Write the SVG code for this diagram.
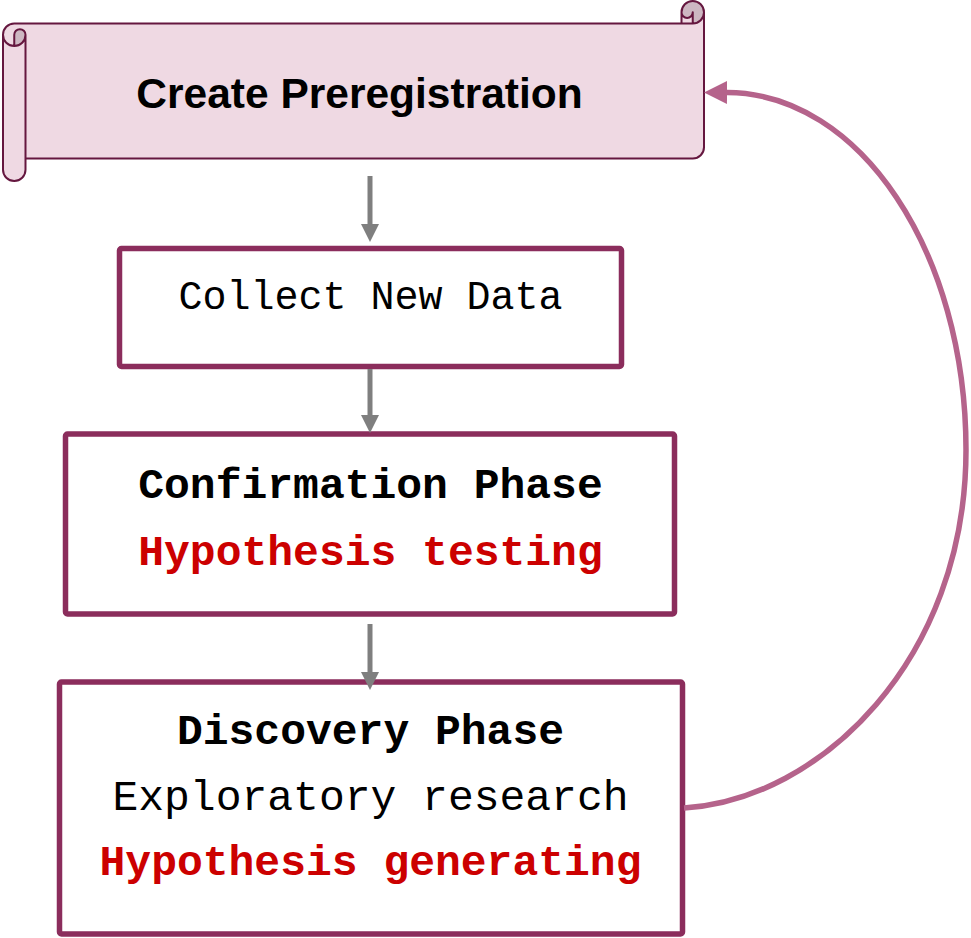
<svg xmlns="http://www.w3.org/2000/svg" width="971" height="938" viewBox="0 0 971 938">
<style>
.box{fill:#ffffff;stroke:#8B2D5C;stroke-width:5.5}
.mono{font-family:"Liberation Mono","Courier New",monospace;font-size:43px;text-anchor:middle}
.b{font-weight:bold}
.red{fill:#CC0000}
.blk{fill:#000000}
.garrow{stroke:#7F7F7F;stroke-width:5;fill:none}
</style>
<defs>
<marker id="gh" markerUnits="userSpaceOnUse" viewBox="0 0 18 18" markerWidth="18" markerHeight="18" refX="0" refY="9" orient="auto">
<path d="M0,0 L18,9 L0,18 Z" fill="#7F7F7F"/>
</marker>
<marker id="ph" markerUnits="userSpaceOnUse" viewBox="0 0 23 23" markerWidth="23" markerHeight="23" refX="0" refY="11.5" orient="auto">
<path d="M0,0 L23,11.5 L0,23 Z" fill="#B5638B"/>
</marker>
</defs>
<rect width="971" height="938" fill="#ffffff"/>
<g id="create-preregistration">
<path fill="#EFD9E3" d="M704 12.25 A11.25 11.25 0 0 1 692.75 23.5 L692.75 12.25 A5.625 5.625 0 0 1 681.5 12.25 L681.5 23.5 L14.25 23.5 A11.25 11.25 0 0 0 3 34.75 L3 169.75 A11.25 11.25 0 0 0 25.5 169.75 L25.5 158.5 L692.75 158.5 A11.25 11.25 0 0 0 704 147.25 Z"/>
<path fill="#CDB7C2" d="M14.25 46 A11.25 11.25 0 0 0 25.5 34.75 A5.625 5.625 0 0 0 14.25 34.75 Z M692.75 23.5 A11.25 11.25 0 1 0 681.5 12.25 A5.625 5.625 0 0 0 692.75 12.25 Z"/>
<path fill="none" stroke="#65173F" stroke-width="2" stroke-linejoin="round" d="M3 34.75 A11.25 11.25 0 0 1 14.25 23.5 L681.5 23.5 L681.5 12.25 A11.25 11.25 0 0 1 704 12.25 L704 147.25 A11.25 11.25 0 0 1 692.75 158.5 L25.5 158.5 L25.5 169.75 A11.25 11.25 0 0 1 3 169.75 Z M681.5 23.5 L692.75 23.5 A11.25 11.25 0 0 0 704 12.25 M692.75 23.5 L692.75 12.25 A5.625 5.625 0 0 1 681.5 12.25 M14.25 46 L14.25 34.75 A5.625 5.625 0 0 1 25.5 34.75 A11.25 11.25 0 0 1 3 34.75 M25.5 34.75 L25.5 158.5"/>
<text x="359.5" y="108" font-family="Liberation Sans, Arial, sans-serif" font-size="42.5" font-weight="bold" text-anchor="middle" fill="#000000">Create Preregistration</text>
</g>
<g id="collect-new-data">
<rect class="box" x="119.5" y="248.5" width="502" height="118" rx="2"/>
<text class="mono blk" x="370.5" y="309" style="font-size:40px">Collect New Data</text>
</g>
<g id="confirmation-phase">
<rect class="box" x="65.5" y="434" width="609" height="180" rx="2"/>
<text class="mono b blk" x="370.5" y="498">Confirmation Phase</text>
<text class="mono b red" x="370.5" y="565">Hypothesis testing</text>
</g>
<g id="discovery-phase">
<rect class="box" x="59.5" y="682" width="623" height="252" rx="2"/>
<text class="mono b blk" x="370.5" y="744">Discovery Phase</text>
<text class="mono blk" x="370.5" y="810">Exploratory research</text>
<text class="mono b red" x="370.5" y="875">Hypothesis generating</text>
</g>
<g id="connectors">
<path class="garrow" d="M370 176 L370 224" marker-end="url(#gh)"/>
<path class="garrow" d="M370 369 L370 415" marker-end="url(#gh)"/>
<path class="garrow" d="M370 624 L370 672" marker-end="url(#gh)"/>
<path fill="none" stroke="#B5638B" stroke-width="5.5" d="M684 808 C820 800 966 660 966 450 C966 252 860 93 727 92.5" marker-end="url(#ph)"/>
</g>
</svg>
